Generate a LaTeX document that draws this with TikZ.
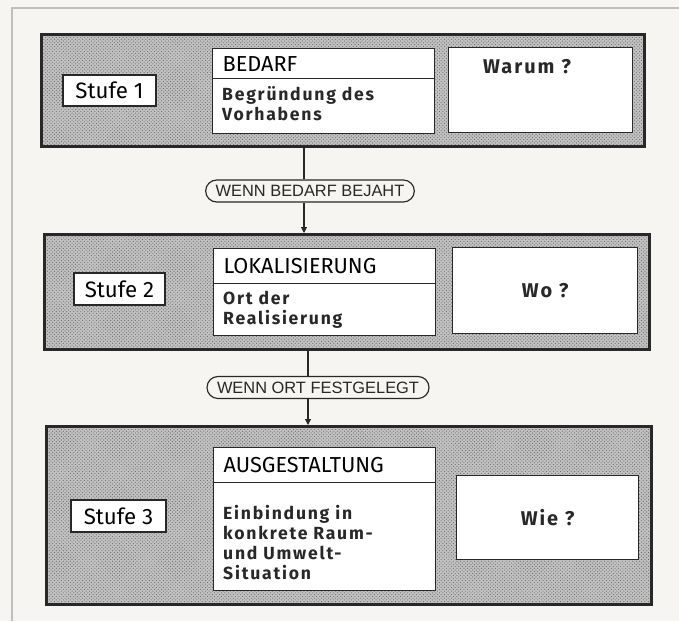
\documentclass[tikz,border=0pt]{standalone}
\usepackage{fontspec}
\setmainfont{Fira Sans}
\newfontfamily\pillfont{Liberation Sans}
\newfontfamily\boxfont[LetterSpace=10]{Fira Sans}
\usepackage{tikz}
\usetikzlibrary{positioning, patterns, arrows.meta}
\definecolor{paper}{RGB}{247,245,241}
\definecolor{ink}{RGB}{40,40,40}
\tikzset{
  wh/.style 2 args={ minimum width=#1*0.03cm, minimum height=#2*0.03cm }
}
\tikzset{
  stageBg/.style={ draw=ink, line width=2.4pt, anchor=north west, inner sep=0pt,
    preaction={fill=black!24}, pattern=crosshatch dots, pattern color=black!60 }
}
\tikzset{
  stufeBox/.style={ draw=ink, line width=2.2pt, fill=white, inner sep=0pt,
    font=\fontsize{19}{22}\selectfont }
}
\tikzset{
  inBox/.style={ draw=ink, line width=1.1pt, fill=white, anchor=north west, inner sep=0pt }
}
\tikzset{
  headBox/.style={ draw=ink, line width=1.1pt, anchor=north west, align=left,
    text width=6.06cm, inner xsep=0.3cm, inner ysep=0pt, minimum height=#1*0.03cm,
    font=\fontsize{18.5}{20}\selectfont }
}
\tikzset{
  bodyTxt/.style={ inner sep=0pt, align=left, text=ink,
    font=\boxfont\bfseries\fontsize{15}{17}\selectfont }
}
\tikzset{
  askTxt/.style={ text=ink, font=\boxfont\bfseries\fontsize{17}{20}\selectfont }
}
\tikzset{
  condPill/.style={ draw=ink, line width=1pt, fill=paper, rounded corners=0.33cm,
    minimum height=0.66cm, inner xsep=0.3cm, inner ysep=0pt, text=ink,
    font=\pillfont\fontsize{14}{16}\selectfont }
}
\tikzset{
  conn/.style={ draw=ink, line width=0.9pt }
}

\begin{document}
\begin{tikzpicture}[x=0.03cm, y=-0.03cm]
  \path[use as bounding box, fill=paper] (0,0) rectangle (679,621);
  \draw[black!25, line width=1pt] (12,621) -- (12,8) -- (679,8);

  % Stufe 1
  \node[stageBg, wh={603}{112}] (stage1) at (40,33) {};
  \node[stufeBox, wh={93}{31}] (stufe1) at (109.5,90.5) {Stufe 1};
  \node[inBox, wh={222}{85}] (mid1) at (212,48) {};
  \node[headBox=30] (head1) at (212,48) {BEDARF};
  \node[bodyTxt, below right=0.2cm and 0.3cm of head1.south west] (body1) {Begründung des\\Vorhabens};
  \node[inBox, wh={184}{85}] (ask1) at (448,47) {};
  \node[askTxt] (warum) at (527,67) {Warum ?};

  % Stufe 2
  \node[stageBg, wh={605}{115}] (stage2) at (43,233) {};
  \node[stufeBox, wh={91}{32}] (stufe2) at (119.5,289) {Stufe 2};
  \node[inBox, wh={222}{87}] (mid2) at (213,248) {};
  \node[headBox=35] (head2) at (213,248) {LOKALISIERUNG};
  \node[bodyTxt, below right=0.19cm and 0.3cm of head2.south west] (body2) {Ort der\\Realisierung};
  \node[inBox, askTxt, wh={185}{86}] (ask2) at (452,247) {Wo ?};

  % Stufe 3
  \node[stageBg, wh={605}{178}] (stage3) at (45,425) {};
  \node[stufeBox, wh={95}{32}] (stufe3) at (118.5,516) {Stufe 3};
  \node[inBox, wh={222}{143}] (mid3) at (213,447) {};
  \node[headBox=35] (head3) at (213,447) {AUSGESTALTUNG};
  \node[bodyTxt, below right=0.66cm and 0.3cm of head3.south west] (body3) {Einbindung in\\konkrete Raum-\\und Umwelt-\\Situation};
  \node[inBox, askTxt, wh={182}{84}] (ask3) at (456,475) {Wie ?};

  % Bedingungen
  \node[condPill] (cond1) at (310,191) {WENN BEDARF BEJAHT};
  \node[condPill] (cond2) at (318,387.5) {WENN ORT FESTGELEGT};
  \coordinate (link1) at (304,0);
  \coordinate (link2) at (308,0);
  \draw[conn] (stage1.south -| link1) -- (cond1.north -| link1);
  \draw[conn, -{Triangle[width=5pt,length=5pt]}] (cond1.south -| link1) -- (stage2.north -| link1);
  \draw[conn] (stage2.south -| link2) -- (cond2.north -| link2);
  \draw[conn, -{Triangle[width=5pt,length=5pt]}] (cond2.south -| link2) -- (stage3.north -| link2);
\end{tikzpicture}
\end{document}
